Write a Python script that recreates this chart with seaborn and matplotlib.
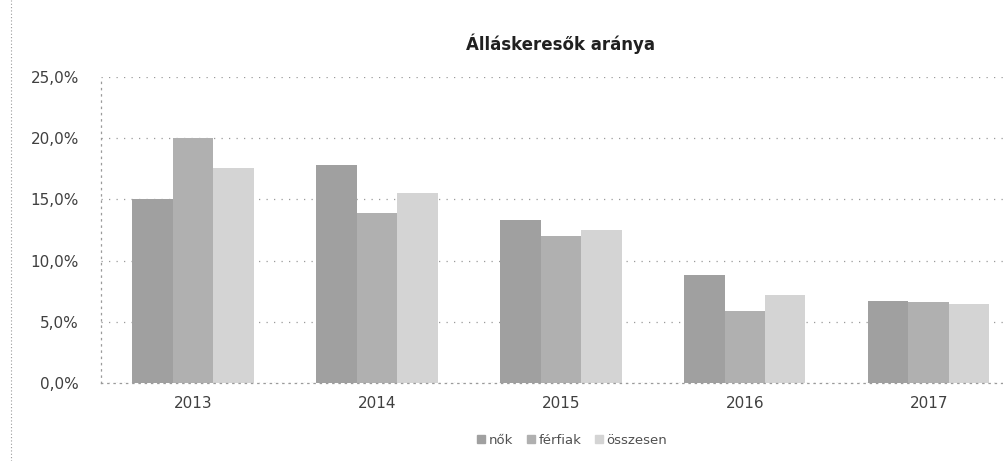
import pandas as pd
import seaborn as sns
import matplotlib.pyplot as plt
from matplotlib.lines import Line2D

years = ["2013", "2014", "2015", "2016", "2017"]
series = ["nők", "férfiak", "összesen"]
nok = [15.0, 17.8, 13.3, 8.8, 6.7]
ferfiak = [20.0, 13.9, 12.0, 5.9, 6.6]
osszesen = [17.6, 15.5, 12.5, 7.2, 6.5]
colors = ["#a0a0a0", "#b0b0b0", "#d4d4d4"]

df = pd.DataFrame({
    "year": years * 3,
    "series": [s for s in series for _ in years],
    "value": nok + ferfiak + osszesen,
})

sns.set_style("white")
plt.rcParams["font.family"] = ["DejaVu Sans"]

fig = plt.figure(figsize=(10.04, 4.61), dpi=100)
ax = fig.add_axes([0.1006, 0.169, 0.916, 0.664])

sns.barplot(data=df, x="year", y="value", hue="series", palette=colors,
            width=0.66, gap=0, ax=ax, legend=False, saturation=1,
            edgecolor="none")

ax.set_xlim(-0.5, 4.5)
ax.set_ylim(0, 25)
ax.set_yticks([0, 5, 10, 15, 20, 25])
ax.set_yticklabels([f"{v:.1f}%".replace(".", ",") for v in [0, 5, 10, 15, 20, 25]])
ax.tick_params(axis="both", length=0, labelsize=11, colors="#404040")
ax.tick_params(axis="y", pad=16)
ax.tick_params(axis="x", pad=9)
ax.set_xlabel("")
ax.set_ylabel("")
ax.grid(axis="y", color="#9a9a9a", linestyle=(0, (1, 5)), linewidth=0.9)
ax.set_axisbelow(True)
for side in ["top", "right"]:
    ax.spines[side].set_visible(False)
for side in ["left", "bottom"]:
    ax.spines[side].set_color("#9a9a9a")
    ax.spines[side].set_linestyle((0, (1, 4)))
    ax.spines[side].set_linewidth(0.9)

fig.text(0.558, 0.905, "Álláskeresők aránya", ha="center", va="center",
         fontsize=12, fontweight="bold", color="#202020")

# outer chart border on the left
fig.add_artist(Line2D([0.011, 0.011], [0.0, 1.0], color="#9a9a9a",
                      linestyle=(0, (1, 2)), linewidth=0.8))

handles = [plt.Rectangle((0, 0), 1, 1, color=c) for c in colors]
fig.legend(handles, series, loc="center", bbox_to_anchor=(0.57, 0.045),
           ncol=3, frameon=False, fontsize=9.5, handlelength=0.6,
           handleheight=0.6, handletextpad=0.3, columnspacing=1.0,
           labelcolor="#505050")

fig.savefig("out.png", dpi=100)
